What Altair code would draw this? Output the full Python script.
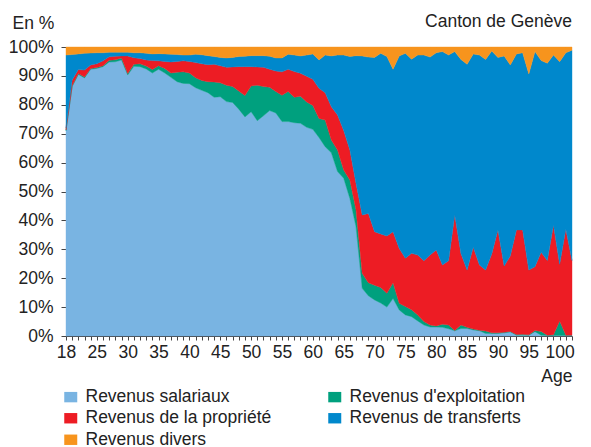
import altair as alt
import pandas as pd

# Horizontal positions of the data points (the first position carries the "18" label)
age_pos = list(range(20, 103))

# Cumulative upper edges of each band, in %
sal_top = [71, 86.3, 90.5, 89.3, 92.3, 92.6, 93.2, 94.8, 94.9, 95.5,
           90.3, 93.3, 93.2, 92.4, 91, 92.3, 91, 89.5, 88, 87.4,
           87.3, 85.9, 85.0, 84.2, 82.6, 82.8, 81.1, 80.8, 78.5, 75.8,
           77.6, 74.5, 76.2, 78.0, 77.2, 74.2, 74.2, 73.8, 73.6, 72.2,
           71.5, 68.7, 65.5, 63.4, 56.9, 54.6, 47.6, 37.8, 16.5, 13.9,
           12.5, 11.4, 10, 13, 9, 7.3, 6.7, 5.2, 3.8, 3.1,
           3.1, 3, 2.5, 1.8, 2.6, 2.6, 2.1, 1.8, 0.9, 0.9,
           0.9, 1.1, 1.4, 0.3, 0.3, 0.3, 1.5, 0.3, 0.2, 0.2,
           0.2, 0.2, 0.2]
expl_top = [71.3, 86.6, 90.8, 89.6, 92.6, 92.9, 93.5, 95.4, 95.6, 96.2,
            90.8, 94, 94.2, 93.4, 92.2, 93.5, 92.6, 91, 91.3, 91.4,
            91, 89.4, 88.4, 88.0, 87.9, 87.6, 86.8, 86.3, 84.8, 83.2,
            86.5, 86.8, 86.3, 86.1, 84.6, 83.3, 84.6, 82.6, 83, 81,
            79.8, 75.3, 74.7, 67.8, 64.4, 57.4, 54, 43.6, 21.7, 18.4,
            17.6, 16.8, 14.8, 18.4, 11.3, 10.2, 9.1, 7.3, 5, 3.8,
            3.5, 4.1, 3.8, 1.9, 3.8, 3, 2.4, 2, 1.7, 1.1,
            1.1, 1.3, 1.6, 0.5, 0.6, 0.4, 1.9, 1.6, 0.3, 0.4,
            5.2, 0.3, 0.3]
prop_top = [72, 88.6, 92.2, 92, 93.8, 94.2, 95.2, 96.6, 96.8, 96.9,
            96.9, 96.3, 96, 95.5, 95.3, 95.2, 95, 94.8, 95, 95.2,
            95, 94.6, 94.2, 93.9, 94, 93.5, 93, 93.1, 93.2, 93.2,
            93.2, 93.1, 93, 92.3, 91.7, 91.4, 92.3, 91.5, 90.9, 89.9,
            88.8, 85.7, 84.2, 79.3, 76.5, 71.1, 64.4, 52.8, 41.9, 42.4,
            36.1, 35.3, 34.6, 36.1, 30.3, 26.9, 28.6, 28, 26, 28,
            29.8, 24.6, 26, 41.9, 28.5, 22.8, 30.7, 24.6, 22.8, 28.4,
            36.7, 24.2, 27.7, 36.7, 36.7, 22.8, 24, 29, 26.1, 38.3,
            24.8, 36.9, 26.1]
trans_top = [97.2, 97.4, 97.6, 97.8, 97.9, 98, 98, 98.2, 98.2, 98.2,
             98.2, 98, 98, 97.8, 97.6, 97.7, 97.6, 97.5, 97.4, 97.2,
             97.2, 97.5, 97.3, 97, 96.7, 96.4, 96.2, 96.4, 96.7, 96.8,
             97, 97, 97, 96.8, 96.2, 96.2, 97.5, 97.2, 96.9, 97.2,
             97.6, 95.5, 97.2, 96.9, 97.2, 97.2, 96.7, 97, 96.9, 96.5,
             96.4, 97.8, 96.7, 92.3, 96.9, 97.8, 95.8, 97.2, 97.2, 96.5,
             98, 98.4, 97.2, 98.4, 95.7, 94, 97.6, 97.2, 95.7, 98.6,
             96.4, 96.9, 93.8, 97.6, 98, 90.7, 98.4, 95.3, 94.4, 97.2,
             94.9, 98, 98.9]

series = ["Revenus salariaux", "Revenus d'exploitation", "Revenus de la propriété",
          "Revenus de transferts", "Revenus divers"]
colors = ["#79B4E2", "#00A07E", "#ED1C24", "#0088CC", "#F7941D"]
# legend entries fill column by column: col 1 then col 2
legend_order = ["Revenus salariaux", "Revenus de la propriété", "Revenus divers",
                "Revenus d'exploitation", "Revenus de transferts"]

x_tick_values = [20, 25, 30, 35, 40, 45, 50, 55, 60, 65, 70, 75, 80, 85, 90, 95, 100]
x_tick_labels = ["18", "25", "30", "35", "40", "45", "50", "55", "60", "65", "70",
                 "75", "80", "85", "90", "95", "100"]
y_ticks = [0, 10, 20, 30, 40, 50, 60, 70, 80, 90, 100]
region_label = ["Canton de Genève"]

rows = []
for i, a in enumerate(age_pos):
    bounds = [0, sal_top[i], expl_top[i], prop_top[i], trans_top[i], 100]
    for k, s in enumerate(series):
        rows.append({"age": a, "serie": s, "lo": bounds[k], "hi": bounds[k + 1]})
df = pd.DataFrame(rows)

x_label_expr = " : ".join(
    f"datum.value == {v} ? '{l}'" for v, l in zip(x_tick_values, x_tick_labels)
) + " : ''"

FONT = "Liberation Sans"
TXT = "#222222"
AX = "#444444"

areas = alt.Chart(df).mark_area(strokeWidth=0.4).encode(
    x=alt.X("age:Q",
            scale=alt.Scale(domain=[20, 102], nice=False, zero=False),
            axis=alt.Axis(values=age_pos, labelExpr=x_label_expr, labelOverlap=False,
                          labelFlush=False, grid=False, tickSize=4, labelPadding=3,
                          title="Age", titleAlign="right", titleAnchor="end",
                          titleX=506, titleY=45, titleBaseline="alphabetic",
                          titleFontWeight="normal")),
    y=alt.Y("lo:Q",
            scale=alt.Scale(domain=[0, 100], nice=False),
            axis=alt.Axis(values=y_ticks, labelExpr="datum.value + '%'", grid=False,
                          tickSize=5, labelPadding=8, title="En %", titleAngle=0,
                          titleAlign="left", titleBaseline="alphabetic",
                          titleX=-54, titleY=-19, titleFontWeight="normal")),
    y2="hi:Q",
    color=alt.Color("serie:N",
                    scale=alt.Scale(domain=series, range=colors),
                    legend=alt.Legend(orient="none", legendX=-4, legendY=341,
                                      columns=2, title=None, values=legend_order,
                                      symbolType="M-1,-0.8L1,-0.8L1,0.8L-1,0.8Z",
                                      symbolSize=169, symbolStrokeWidth=0,
                                      symbolOpacity=1,
                                      labelFontSize=17.5, labelFont=FONT, labelColor=TXT,
                                      labelOffset=6, labelLimit=400,
                                      columnPadding=54, rowPadding=2.5, padding=0)),
    stroke=alt.Stroke("serie:N", scale=alt.Scale(domain=series, range=colors), legend=None),
)

region = alt.Chart(pd.DataFrame({"t": region_label})).mark_text(
    align="right", baseline="alphabetic", font=FONT, fontSize=17.5, color=TXT
).encode(
    x=alt.value(506), y=alt.value(-20), text="t:N"
)

chart = alt.layer(areas, region).properties(
    width=506,
    height=289,
    autosize=alt.AutoSizeParams(type="none"),
    padding={"left": 58, "top": 39, "right": 11, "bottom": 111},
).configure_view(
    stroke=None
).configure_axis(
    labelFont=FONT, labelFontSize=17.5, labelColor=TXT,
    titleFont=FONT, titleFontSize=17.5, titleColor=TXT,
    domainColor=AX, tickColor=AX, domainWidth=1, tickWidth=1,
)

chart.save("out.html", embed_options={"renderer": "svg", "actions": False})
